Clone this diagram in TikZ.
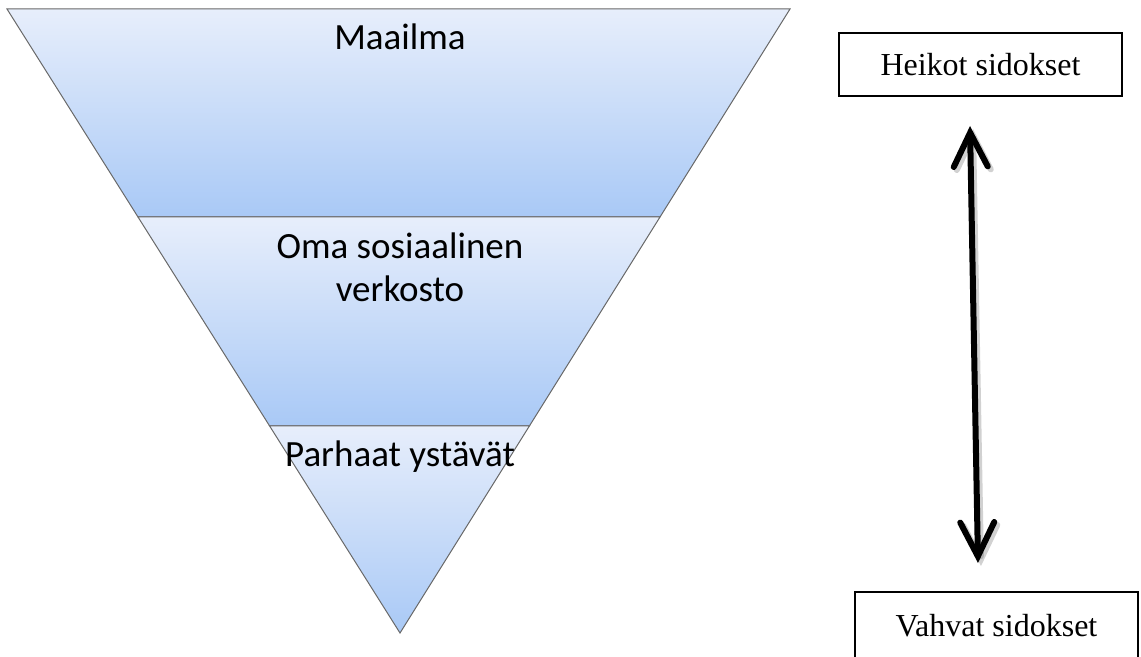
\documentclass[tikz,border=0pt]{standalone}
\usepackage{fontspec}
\setmainfont{Liberation Serif}
\newfontfamily\calibri{Carlito}
\usepackage{tikz}
\usetikzlibrary{positioning, arrows.meta, calc}
\definecolor{bandtop}{RGB}{231,238,251}
\definecolor{bandbottom}{RGB}{169,201,246}
\definecolor{edgegray}{RGB}{105,105,105}
\tikzstyle{band}=[%
      draw=edgegray, line width=0.5pt, top color=bandtop, bottom color=bandbottom
]
\tikzstyle{lbl}=[%
      font=\calibri\fontsize{18.5}{21.5}\selectfont, align=center, inner sep=0pt, anchor=base
]
\tikzstyle{tie}=[%
      rectangle, draw=black, line width=0.6pt, fill=white,
      minimum height=31.5pt, minimum width=141.5pt, inner sep=0pt,
      font=\fontsize{16}{20}\selectfont
]

\begin{document}
\begin{tikzpicture}[x=0.5pt, y=-0.5pt,
    tieline/.style={line width=3pt, line cap=round,
      {Straight Barb[length=17pt, width=17pt, line cap=round]}-{Straight Barb[length=17pt, width=17pt, line cap=round]}}
  ]
    \useasboundingbox (0,0) rectangle (1141,657);
    \coordinate (tl)   at (7,9);
    \coordinate (tr)   at (790,9);
    \coordinate (apex) at (400,633);
    \coordinate (l1) at ($(tl)!0.333!(apex)$);
    \coordinate (r1) at ($(tr)!0.333!(apex)$);
    \coordinate (l2) at ($(tl)!0.668!(apex)$);
    \coordinate (r2) at ($(tr)!0.668!(apex)$);

    % funnel bands
    \path[band] (tl) -- (tr) -- (r1) -- (l1) -- cycle;
    \path[band] (l1) -- (r1) -- (r2) -- (l2) -- cycle;
    \path[band] (l2) -- (r2) -- (apex) -- cycle;

    \node[lbl] (world)   at (400,50)  {Maailma};
    \node[lbl] (network) at (400,302) {Oma sosiaalinen\\verkosto};
    \node[lbl] (friends) at (400,467) {Parhaat ystävät};

    % ties
    \node[tie] (weak)   at (980.5,64.5)  {Heikot sidokset};
    \node[tie, minimum height=33.5pt] (strong) at (996.5,625.5) {Vahvat sidokset};

    \coordinate (up)   at (970,126);
    \coordinate (down) at (978,563);
    \draw[tieline, draw=black!60, opacity=0.3, transform canvas={shift={(1.5pt,-1.5pt)}}] (up) -- (down);
    \draw[tieline] (up) -- (down);
  \end{tikzpicture}
\end{document}
